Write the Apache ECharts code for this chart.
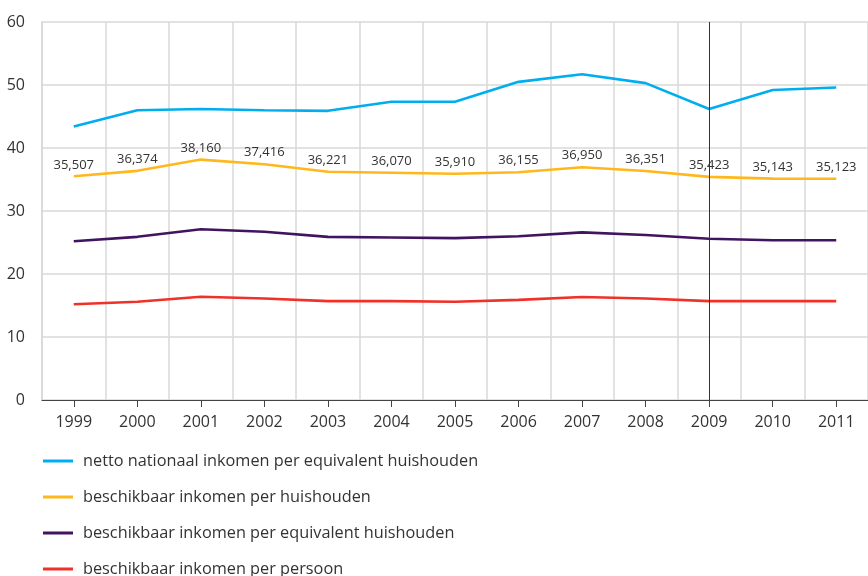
<!DOCTYPE html>
<html>
<head>
<meta charset="utf-8">
<script src="https://cdn.jsdelivr.net/npm/echarts@6/dist/echarts.min.js"></script>
<style>
  html, body { margin: 0; padding: 0; background: #fff; }
  #chart { width: 868px; height: 576px; }
</style>
</head>
<body>
<div id="chart"></div>
<script>
// jaren
var years = ['1999', '2000', '2001', '2002', '2003', '2004', '2005', '2006', '2007', '2008', '2009', '2010', '2011'];
// reeksen (x 1000 euro)
var nettoNationaal = [43.4, 46.0, 46.2, 46.0, 45.9, 47.35, 47.35, 50.5, 51.7, 50.3, 46.2, 49.2, 49.6];
var perHuishouden = [35.507, 36.374, 38.160, 37.416, 36.221, 36.070, 35.910, 36.155, 36.950, 36.351, 35.423, 35.143, 35.123];
var perEquivalent = [25.2, 25.9, 27.1, 26.7, 25.9, 25.8, 25.7, 26.0, 26.6, 26.2, 25.6, 25.35, 25.35];
var perPersoon = [15.2, 15.6, 16.4, 16.1, 15.7, 15.7, 15.6, 15.9, 16.35, 16.1, 15.7, 15.7, 15.7];
var seriesNames = [
  'netto nationaal inkomen per equivalent huishouden',
  'beschikbaar inkomen per huishouden',
  'beschikbaar inkomen per equivalent huishouden',
  'beschikbaar inkomen per persoon'
];
var yTicks = [0, 10, 20, 30, 40, 50, 60];

var font = '"Open Sans", "Noto Sans", sans-serif';
var chart = echarts.init(document.getElementById('chart'));

function lineSeries(name, data, color) {
  return {
    name: name,
    type: 'line',
    data: data,
    showSymbol: false,
    symbol: 'none',
    animation: false,
    lineStyle: { width: 2.6, color: color },
    itemStyle: { color: color }
  };
}

// gele lijn met waardelabels
var huishoudenSeries = lineSeries(seriesNames[1], perHuishouden, '#ffb81c');
huishoudenSeries.symbol = 'circle';
huishoudenSeries.symbolSize = 0;
huishoudenSeries.showSymbol = true;
huishoudenSeries.label = {
  show: true,
  position: 'top',
  distance: 5,
  fontFamily: font,
  fontSize: 13,
  color: '#333',
  formatter: function (p) {
    return Math.round(p.value * 1000).toLocaleString('en-US');
  }
};

// verticale lijn bij 2009
var nettoSeries = lineSeries(seriesNames[0], nettoNationaal, '#00aeef');
nettoSeries.markLine = {
  silent: true,
  symbol: 'none',
  label: { show: false },
  lineStyle: { color: '#333', width: 1, type: 'solid' },
  data: [{ xAxis: '2009' }],
  animation: false
};

var option = {
  animation: false,
  grid: { left: 42, top: 22, width: 832, height: 378, containLabel: false },
  legend: {
    orient: 'vertical',
    left: 43,
    top: 451,
    height: 200,
    padding: 0,
    itemWidth: 30,
    itemHeight: 3,
    itemGap: 16,
    icon: 'rect',
    textStyle: { fontFamily: font, fontSize: 16.3, color: '#333', lineHeight: 20, padding: [0, 0, 0, 5] },
    data: seriesNames
  },
  xAxis: {
    type: 'category',
    data: years,
    boundaryGap: true,
    axisLine: { show: true, lineStyle: { color: '#444', width: 1 } },
    axisTick: { show: true, alignWithLabel: true, length: 7, lineStyle: { color: '#444' } },
    axisLabel: { fontFamily: font, fontSize: 16, color: '#333', margin: 14, interval: 0 },
    splitLine: { show: true, lineStyle: { color: '#d9d9d9', width: 1.5 } }
  },
  yAxis: {
    type: 'value',
    min: 0,
    max: 60,
    interval: 10,
    axisLine: { show: true, lineStyle: { color: '#d9d9d9', width: 1.5 } },
    axisTick: { show: false },
    axisLabel: {
      fontFamily: font, fontSize: 16, color: '#333', margin: 17,
      padding: [0, 0, 10, 0],
      formatter: function (v) { return yTicks.indexOf(v) >= 0 ? String(v) : ''; }
    },
    splitLine: { show: true, lineStyle: { color: '#d9d9d9', width: 1.5 } }
  },
  series: [
    nettoSeries,
    huishoudenSeries,
    lineSeries(seriesNames[2], perEquivalent, '#42145f'),
    lineSeries(seriesNames[3], perPersoon, '#ef3128')
  ]
};

chart.setOption(option);
</script>
</body>
</html>
